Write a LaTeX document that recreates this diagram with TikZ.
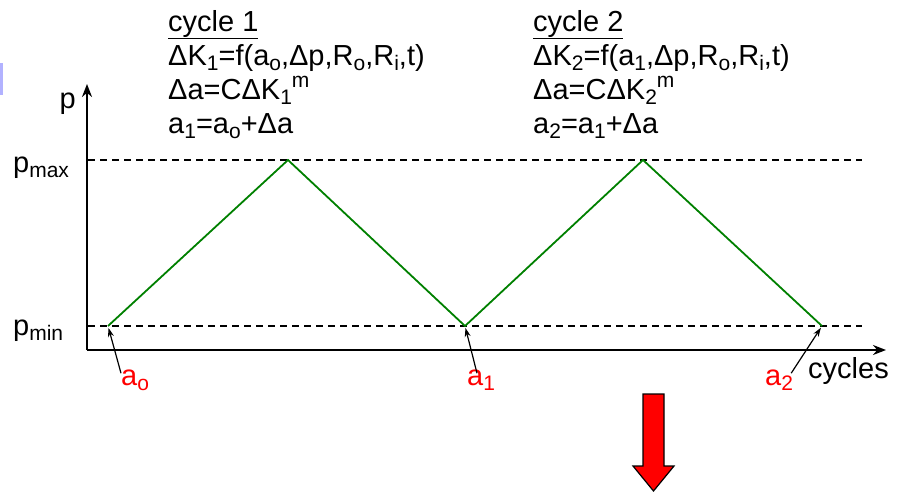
\documentclass[tikz,border=0pt]{standalone}
\usepackage{fontspec}
\setmainfont{Liberation Sans}
\usetikzlibrary{arrows.meta,positioning}
\newcommand\lo[1]{\raisebox{-.35ex}{\fontsize{21}{21}\selectfont#1}}
\newcommand\hi[1]{\raisebox{.75ex}{\fontsize{21}{21}\selectfont#1}}
\tikzset{
  lbl/.style={font=\fontsize{29}{34}\selectfont, inner sep=0pt},
  eqn/.style={lbl, align=left, anchor=north west},
  redlbl/.style={lbl, text=red},
  axis/.style={line width=2pt, -{Stealth[length=13pt,width=10pt]}},
  level/.style={line width=1.3pt, dash pattern=on 7pt off 5pt},
  load/.style={green!50!black, line width=1.8pt},
  pointer/.style={line width=1.2pt, -{Stealth[length=9pt,width=6pt]}, shorten >=2pt},
}
\begin{document}
\begin{tikzpicture}[x=1pt, y=-1pt]
\useasboundingbox (0,0) rectangle (904,493);
\fill[blue!30!white] (0,63) rectangle (3,95);
% axes
\coordinate (O) at (87,350);
\draw[axis] (O) -- (87,84) coordinate (ytip);
\draw[axis] (O) -- (886,350) coordinate (xtip);
\node[lbl, anchor=base east] (p) at (76,108) {p};
\node[lbl, anchor=base west] (cyc) at (808,378) {cycles};
\node[lbl, anchor=base west] (pmax) at (13,172) {p\lo{max}};
\node[lbl, anchor=base west] (pmin) at (13,335) {p\lo{min}};
% pressure levels
\draw[level] (88,160) -- (862,160);
\draw[level] (88,326) -- (862,326);
% load history
\draw[load] (108,326) coordinate (v0) -- (288,160) -- (465,326) coordinate (v1)
  -- (643,160) -- (822,326) coordinate (v2);
% crack lengths
\node[redlbl, anchor=base west] (ao) at (121,385) {a\lo{o}};
\node[redlbl, anchor=base west] (a1) at (467,385) {a\lo{1}};
\node[redlbl, anchor=base west] (a2) at (765,385) {a\lo{2}};
\draw[pointer] ([yshift=-4pt]ao.north west) -- (v0);
\draw[pointer] ([xshift=10pt,yshift=-4pt]a1.north west) -- (v1);
\draw[pointer] ([xshift=-2pt,yshift=-4pt]a2.north east) -- (v2);
% crack growth per cycle
\node[eqn] (c1) at (168,10) {\underline{cycle 1}\\
  ΔK\lo{1}=f(a\lo{o},Δp,R\lo{o},R\lo{i},t)\\
  Δa=CΔK\lo{1}\hi{m}\\
  a\lo{1}=a\lo{o}+Δa};
\node[eqn] (c2) at (533,10) {\underline{cycle 2}\\
  ΔK\lo{2}=f(a\lo{1},Δp,R\lo{o},R\lo{i},t)\\
  Δa=CΔK\lo{2}\hi{m}\\
  a\lo{2}=a\lo{1}+Δa};
% result arrow
\draw[fill=red, line width=1.2pt] (643,394) -- (664,394) -- (664,466) -- (674,466)
  -- (653.5,491) -- (633,466) -- (643,466) -- cycle;
\end{tikzpicture}
\end{document}
